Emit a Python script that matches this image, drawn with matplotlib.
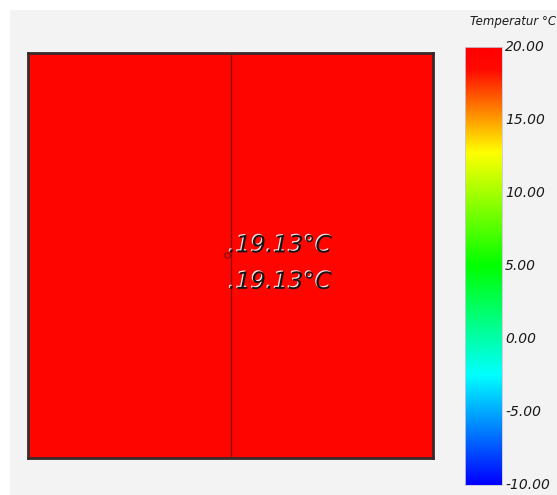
import numpy as np
import matplotlib
matplotlib.use("Agg")
import matplotlib.pyplot as plt
from matplotlib.colors import LinearSegmentedColormap, Normalize
from matplotlib.patches import Rectangle
import matplotlib.patheffects as pe

# data
cells = ["left", "right"]
temps = [19.13, 19.13]
labels = [".19.13°C", ".19.13°C"]
vmin, vmax = -10.0, 20.0
cbar_ticks = [20.0, 15.0, 10.0, 5.0, 0.0, -5.0, -10.0]
cbar_title = "Temperatur °C"

W, H = 557, 495
fig = plt.figure(figsize=(W / 100, H / 100), dpi=100)
fig.patch.set_facecolor("#f3f3f3")
# thin white strips along top and left edge
fig.patches.append(Rectangle((0, 0), 10 / W, 1, transform=fig.transFigure,
                             facecolor="white", edgecolor="none", zorder=-10))
fig.patches.append(Rectangle((0, 1 - 10 / H), 1, 10 / H, transform=fig.transFigure,
                             facecolor="white", edgecolor="none", zorder=-10))

cmap = LinearSegmentedColormap.from_list(
    "rainbow5", [(0.0, "#0000ff"), (0.25, "#00ffff"), (0.5, "#00ff00"),
                 (0.76, "#ffff00"), (0.95, "#ff0a00"), (1.0, "#ff0000")])
norm = Normalize(vmin=vmin, vmax=vmax)


def fa(x0, y0, x1, y1):
    return [x0 / W, 1 - y1 / H, (x1 - x0) / W, (y1 - y0) / H]


# main square
ax = fig.add_axes(fa(28, 53, 433, 458))
ax.imshow(np.array([temps]), cmap=cmap, norm=norm, aspect="auto",
          extent=[0, 2, 0, 1], interpolation="nearest")
ax.axvline(1, color="#8a1010", lw=1.0)
ax.set_xlim(0, 2)
ax.set_ylim(0, 1)
ax.set_xticks([])
ax.set_yticks([])
for s in ax.spines.values():
    s.set_color("#3a2a2a")
    s.set_linewidth(2)

ax.plot([0.985], [0.5], marker="o", ms=4, mfc="none", mec="#7a1010", mew=0.8)
shadow = [pe.withSimplePatchShadow(offset=(-0.8, 0.8), shadow_rgbFace="white", alpha=0.9)]
ax.text(0.99, 0.525, labels[0], fontsize=17, style="italic", color="#151515",
        ha="left", va="center", path_effects=shadow)
ax.text(0.99, 0.435, labels[1], fontsize=17, style="italic", color="#151515",
        ha="left", va="center", path_effects=shadow)

# colorbar
cax = fig.add_axes(fa(465, 47, 502, 485))
grad = np.linspace(vmin, vmax, 256).reshape(-1, 1)
cax.imshow(grad, cmap=cmap, norm=norm, aspect="auto", origin="lower",
           extent=[0, 1, vmin, vmax])
cax.set_xticks([])
cax.set_yticks([])
for s in cax.spines.values():
    s.set_color("#c8c8d8")
    s.set_linewidth(0.6)
for t in cbar_ticks:
    cax.text(1.08, t, f"{t:.2f}", transform=cax.get_yaxis_transform(),
             fontsize=10, style="italic", color="#1a1a1a", ha="left",
             va="center")

fig.text(470 / W, 1 - 21 / H, cbar_title, fontsize=8.5, style="italic",
         color="#1a1a1a", ha="left", va="center")

fig.savefig("out.png", dpi=100, facecolor=fig.get_facecolor())
